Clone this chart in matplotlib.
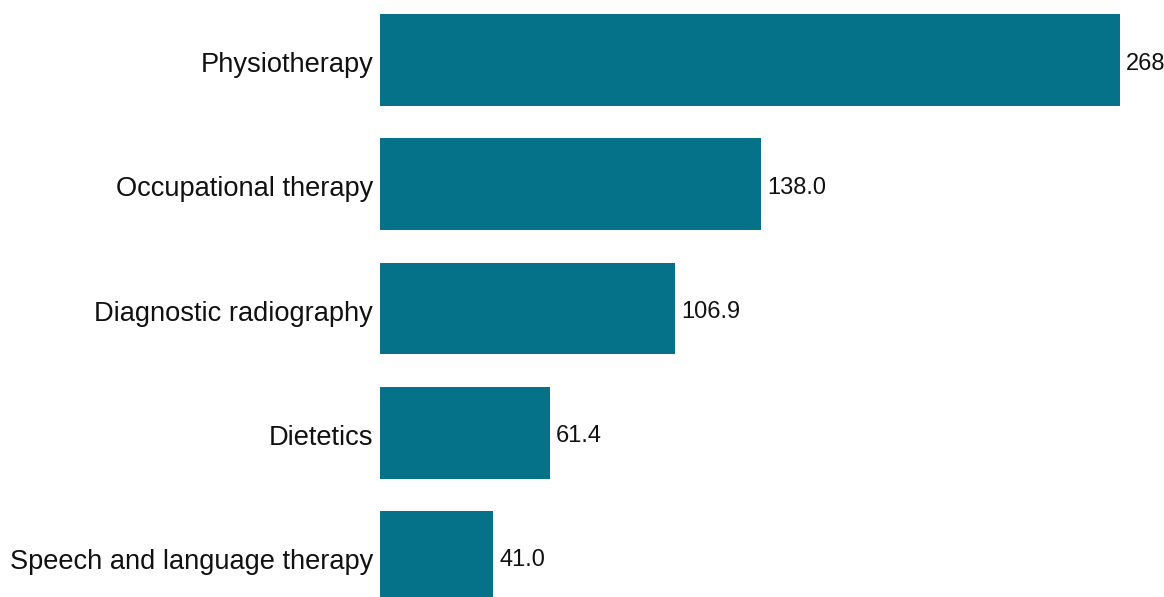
import matplotlib
matplotlib.use("Agg")
import matplotlib.pyplot as plt
from matplotlib.transforms import ScaledTranslation

categories = ["Physiotherapy", "Occupational therapy", "Diagnostic radiography",
              "Dietetics", "Speech and language therapy"]
values = [268.0, 138.0, 106.9, 61.4, 41.0]

plt.rcParams['font.family'] = ['Liberation Sans', 'DejaVu Sans']

W, H = 1164, 597
fig = plt.figure(figsize=(W / 100, H / 100), dpi=100)
left_px = 380
top_px = -2
bottom_px = 619
ax = fig.add_axes([left_px / W, (H - bottom_px) / H, 1 - left_px / W, (bottom_px - top_px) / H])

y = list(range(len(categories)))
ax.barh(y, values, height=0.74, color="#06728A")
ax.set_ylim(len(categories) - 0.5, -0.5)
ax.set_xlim(0, (W - left_px) / 2.761)
ax.set_yticks(y)
ax.set_yticklabels(categories, fontsize=19.6, color="#111111")
ax.tick_params(axis='y', length=0, pad=5)
ax.set_xticks([])
for s in ax.spines.values():
    s.set_visible(False)

shift = ScaledTranslation(0, -2 / 100, fig.dpi_scale_trans)
for lbl in ax.get_yticklabels():
    lbl.set_transform(lbl.get_transform() + shift)

for yi, v in zip(y, values):
    ax.annotate(f"{v:.1f}", (v, yi), xytext=(4.2, -2.5), textcoords="offset points",
                va="center", ha="left", fontsize=17, color="#111111",
                annotation_clip=False)

fig.savefig("out.png", dpi=100)
